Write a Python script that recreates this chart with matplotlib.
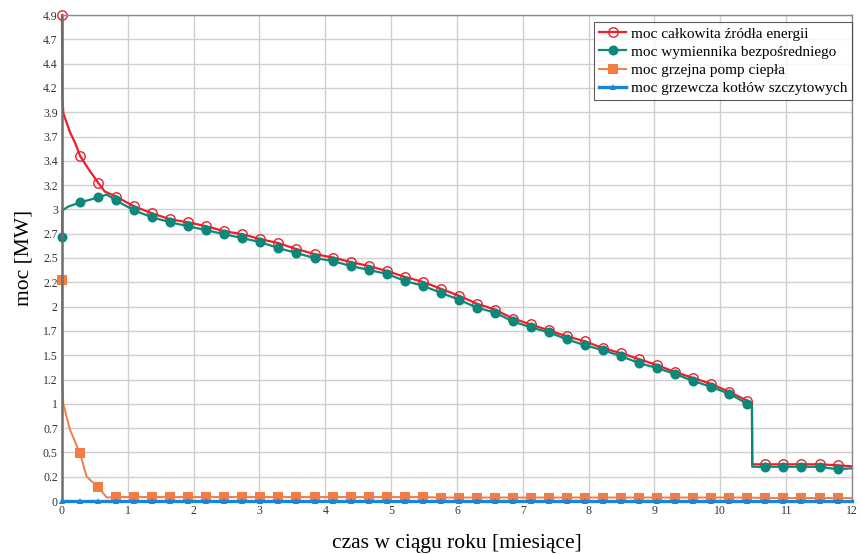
import numpy as np
import matplotlib
matplotlib.use("Agg")
import matplotlib.pyplot as plt

plt.rcParams["font.family"] = ["Liberation Serif", "DejaVu Serif"]

# markers every 200 h, time axis in months (730 h each)
n_marks = 44
mark_x = np.arange(n_marks) * 200 / 730

# values at marker points [MW]
total_marks = [4.9, 3.48, 3.21, 3.07, 2.97, 2.90, 2.84, 2.81, 2.77, 2.72,
               2.69, 2.64, 2.60, 2.54, 2.49, 2.455, 2.41, 2.37, 2.32, 2.26,
               2.21, 2.14, 2.07, 1.99, 1.93, 1.84, 1.78, 1.72, 1.66, 1.61,
               1.54, 1.49, 1.43, 1.37, 1.30, 1.24, 1.18, 1.10, 1.01, 0.37,
               0.37, 0.37, 0.37, 0.36]
exch_marks = [2.66, 3.01, 3.06, 3.03, 2.93, 2.86, 2.81, 2.77, 2.73, 2.69,
              2.65, 2.61, 2.55, 2.50, 2.45, 2.42, 2.37, 2.33, 2.29, 2.22,
              2.17, 2.10, 2.03, 1.95, 1.90, 1.81, 1.75, 1.70, 1.63, 1.57,
              1.52, 1.46, 1.39, 1.34, 1.28, 1.21, 1.15, 1.08, 0.98, 0.345,
              0.345, 0.345, 0.345, 0.32]
hp_marks = [2.23, 0.48, 0.14] + [0.04] * 18 + [0.035] * 18 + [0.03] * 5
boiler_marks = [0.004] * n_marks

# extra points between markers
total_extra_x = [0.005, 0.02, 0.12, 0.2, 0.40, 0.65, 10.48, 10.485, 12.0]
total_extra_y = [4.09, 3.91, 3.72, 3.61, 3.35, 3.12, 0.99, 0.37, 0.35]
exch_extra_x = [0.005, 0.1, 0.68, 10.48, 10.485, 12.0]
exch_extra_y = [2.93, 2.97, 3.09, 0.96, 0.345, 0.33]
hp_extra_x = [0.003, 0.02, 0.12, 0.375, 0.68, 12.0]
hp_extra_y = [1.22, 0.98, 0.72, 0.245, 0.035, 0.03]
boiler_extra_x = [12.0]
boiler_extra_y = [0.004]

labels = ["moc całkowita źródła energii",
          "moc wymiennika bezpośredniego",
          "moc grzejna pomp ciepła",
          "moc grzewcza kotłów szczytowych"]

ytick_vals = np.linspace(0, 4.9, 21)
ytick_labels = ["0", "0.2", "0.5", "0.7", "1", "1.2", "1.5", "1.7", "2", "2.2",
                "2.5", "2.7", "3", "3.2", "3.4", "3.7", "3.9", "4.2", "4.4",
                "4.7", "4.9"]


def merge(marks, ex, ey):
    x = np.concatenate([mark_x, ex])
    y = np.concatenate([marks, ey])
    is_mark = np.concatenate([np.ones(len(mark_x), bool), np.zeros(len(ex), bool)])
    order = np.argsort(x, kind="stable")
    return x[order], y[order], is_mark[order]


fig = plt.figure(figsize=(8.62, 5.55), dpi=100)
ax = fig.add_axes([62 / 862, 1 - 501 / 555, 790 / 862, 486 / 555])

series = [
    (total_marks, total_extra_x, total_extra_y,
     dict(color="#e8202a", lw=1.6, marker="o", ms=6.8, mfc="none", mew=1.0, zorder=2)),
    (exch_marks, exch_extra_x, exch_extra_y,
     dict(color="#0d877a", lw=1.6, marker="o", ms=7.2, mfc="#0d877a", mew=0, zorder=2.1)),
    (hp_marks, hp_extra_x, hp_extra_y,
     dict(color="#f37c45", lw=1.4, marker="s", ms=6.5, mew=0, zorder=2.2)),
    (boiler_marks, boiler_extra_x, boiler_extra_y,
     dict(color="#1a85d6", lw=2.4, marker="^", ms=4.8, mew=0, zorder=3)),
]
for (marks, ex, ey, style), lab in zip(series, labels):
    x, y, m = merge(marks, ex, ey)
    ax.plot(x, y, markevery=list(m), label=lab, clip_on=False, **style)

ax.set_xlim(0, 12)
ax.set_ylim(0, 4.9)
ax.set_xticks(range(13))
ax.set_yticks(ytick_vals)
ax.set_yticklabels(ytick_labels)
ax.tick_params(length=0, labelsize=8.5, colors="#333333", pad=3)
ax.grid(True, color="#d0d0d0", lw=1.0)
ax.set_axisbelow(True)
for side in ["top", "right"]:
    ax.spines[side].set_color("#8a8a8a")
    ax.spines[side].set_linewidth(1.0)
for side in ["left", "bottom"]:
    ax.spines[side].set_color("#6e6e6e")
    ax.spines[side].set_linewidth(1.8)

ax.set_xlabel("czas w ciągu roku [miesiące]", fontsize=15.5, labelpad=12)
ax.set_ylabel("moc [MW]", fontsize=15.5, labelpad=7)

leg = ax.legend(loc="upper right", bbox_to_anchor=(1.0, 0.985), fontsize=11,
                frameon=True, fancybox=False, edgecolor="#333333",
                handlelength=1.8, handletextpad=0.3, borderpad=0.3,
                labelspacing=0.3, borderaxespad=0.0)
leg.get_frame().set_linewidth(0.8)

fig.savefig("out.png", dpi=100)
